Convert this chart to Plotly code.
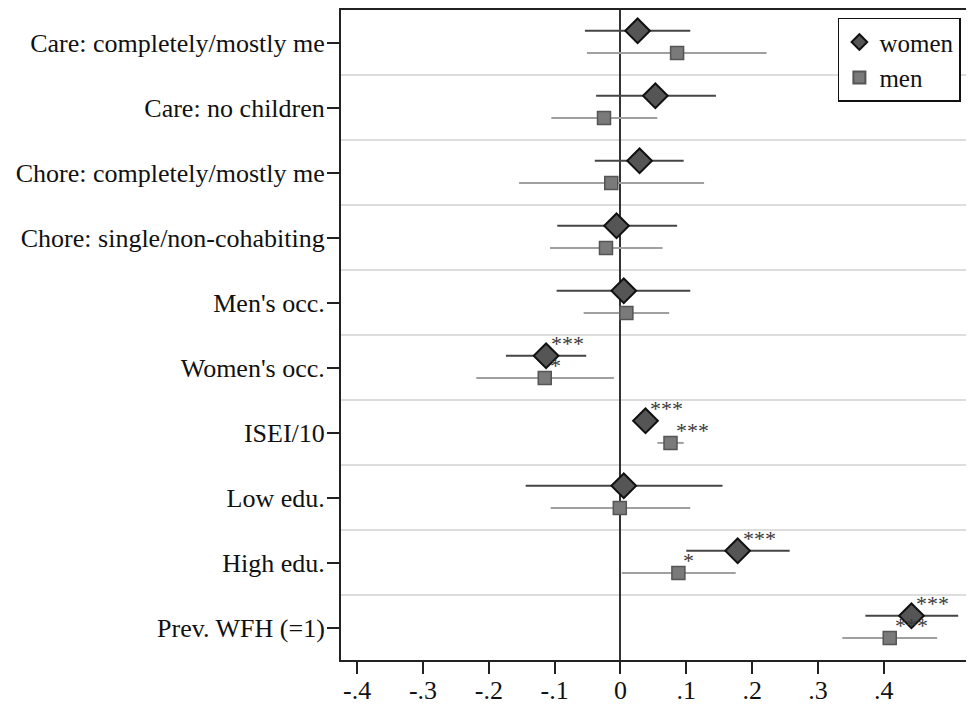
import plotly.graph_objects as go

categories = ["Care: completely/mostly me", "Care: no children", "Chore: completely/mostly me",
              "Chore: single/non-cohabiting", "Men's occ.", "Women's occ.", "ISEI/10",
              "Low edu.", "High edu.", "Prev. WFH (=1)"]

women_est = [0.026, 0.053, 0.029, -0.006, 0.005, -0.113, 0.038, 0.005, 0.178, 0.442]
women_lo = [-0.054, -0.037, -0.039, -0.096, -0.097, -0.174, 0.020, -0.144, 0.100, 0.372]
women_hi = [0.106, 0.145, 0.096, 0.086, 0.106, -0.052, 0.057, 0.155, 0.257, 0.513]
women_stars = ["", "", "", "", "", "***", "***", "", "***", "***"]

men_est = [0.086, -0.025, -0.014, -0.022, 0.009, -0.115, 0.076, -0.001, 0.088, 0.409]
men_lo = [-0.051, -0.105, -0.154, -0.107, -0.056, -0.219, 0.056, -0.106, 0.002, 0.337]
men_hi = [0.222, 0.056, 0.127, 0.064, 0.074, -0.010, 0.096, 0.106, 0.175, 0.481]
men_stars = ["", "", "", "", "", "*", "***", "", "*", "***"]

xticks = [-0.4, -0.3, -0.2, -0.1, 0, 0.1, 0.2, 0.3, 0.4]
xticklabels = ["-.4", "-.3", "-.2", "-.1", "0", ".1", ".2", ".3", ".4"]

FONT = "Liberation Serif"
n = len(categories)
yw = [i - 0.18 for i in range(n)]
ym = [i + 0.16 for i in range(n)]

fig = go.Figure()
fig.add_trace(go.Scatter(
    x=women_est, y=yw, mode="markers", name="women",
    marker=dict(symbol="diamond", size=19, color="#555555", line=dict(color="#111111", width=2)),
    error_x=dict(type="data", symmetric=False,
                 array=[h - e for h, e in zip(women_hi, women_est)],
                 arrayminus=[e - l for e, l in zip(women_est, women_lo)],
                 color="#454545", thickness=2, width=0),
))
fig.add_trace(go.Scatter(
    x=men_est, y=ym, mode="markers", name="men",
    marker=dict(symbol="square", size=13, color="#7a7a7a", line=dict(color="#555555", width=1.5)),
    error_x=dict(type="data", symmetric=False,
                 array=[h - e for h, e in zip(men_hi, men_est)],
                 arrayminus=[e - l for e, l in zip(men_est, men_lo)],
                 color="#a0a0a0", thickness=2, width=0),
))

for est, ys, stars in ((women_est, yw, women_stars), (men_est, ym, men_stars)):
    for x, y, s in zip(est, ys, stars):
        if s:
            fig.add_annotation(x=x, y=y, text=s, showarrow=False, xanchor="left", yanchor="middle",
                               xshift=3, yshift=12, font=dict(family=FONT, size=22, color="#3a3a3a"))

fig.update_layout(
    width=966, height=696,
    margin=dict(l=333, r=0, t=2, b=44, autoexpand=False),
    paper_bgcolor="white", plot_bgcolor="white",
    font=dict(family=FONT, size=26, color="#111111"),
    showlegend=True,
    legend=dict(x=0.785, y=0.988, xanchor="left", yanchor="top",
                bordercolor="#111111", borderwidth=1.5, bgcolor="white",
                font=dict(family=FONT, size=25), tracegroupgap=0, itemsizing="constant"),
)
fig.update_xaxes(
    range=[-0.4245, 0.537], tickvals=xticks, ticktext=xticklabels, automargin=False,
    showgrid=False, zeroline=True, zerolinecolor="#333333", zerolinewidth=2,
    showline=True, linecolor="#222222", linewidth=2, mirror=True,
    ticks="outside", ticklen=12, tickwidth=2, tickcolor="#222222",
    tickfont=dict(family=FONT, size=26), ticklabelstandoff=-6,
)
fig.update_yaxes(
    range=[n - 0.5, -0.5], tickvals=list(range(n)), ticktext=categories, automargin=False,
    showgrid=False, zeroline=False,
    showline=True, linecolor="#222222", linewidth=2,
    ticks="outside", ticklen=12, tickwidth=2, tickcolor="#222222",
    tickfont=dict(family=FONT, size=26), ticklabelstandoff=-3,
    minor=dict(tickvals=[i + 0.5 for i in range(n - 1)], showgrid=True,
               gridcolor="#dddddd", gridwidth=2, ticks=""),
)

fig.write_html("out.html")
